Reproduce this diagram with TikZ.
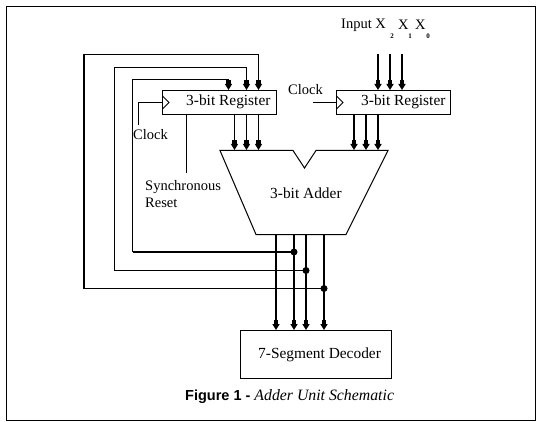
\documentclass[tikz,border=0pt]{standalone}
\usepackage{fontspec}
\setmainfont{Liberation Serif}
\newfontfamily\capfont{Liberation Sans}
\usetikzlibrary{arrows.meta,calc}
\tikzset{
  x=1pt,y=-1pt,
  hd/.tip={Rectangle[length=4pt,width=4.5pt]Triangle[length=6pt,width=7pt]},
  thin line/.style={draw=black,line width=1pt},
  boxnode/.style={draw=black,line width=1pt,fill=white,inner sep=0pt,outer sep=0pt,anchor=north west},
  lbl/.style={inner sep=0pt,font=\fontsize{14.5}{16}\selectfont,anchor=west},
  biglbl/.style={inner sep=0pt,font=\fontsize{15.4}{16}\selectfont,anchor=west},
  sublbl/.style={inner sep=0pt,font=\fontsize{7}{8}\selectfont\bfseries},
  bus/.style={draw=black,line width=2pt,-{hd}},
  busin/.style={draw=black,line width=1pt,-{hd}},
  dot/.style={circle,fill=black,inner sep=0pt,minimum size=7pt},
}
\begin{document}
\begin{tikzpicture}
\useasboundingbox (0,0) rectangle (543,422);
\fill[white] (0,0) rectangle (543,422);
\draw[thin line] (6.5,6.5) rectangle (535,420);
% nodes
\node[boxnode,minimum width=114pt,minimum height=24pt] (regL) at (162.5,90.5) {};
\node[boxnode,minimum width=114pt,minimum height=24pt] (regR) at (336.5,90.5) {};
\node[boxnode,minimum width=151pt,minimum height=48pt] (dec) at (240.5,330.5) {};
\node[biglbl] (regLt) at (186,102) {3-bit Register};
\node[biglbl] (regRt) at (361,102) {3-bit Register};
\node[biglbl] (dect) at (258,355) {7-Segment Decoder};
\node[biglbl] (addt) at (270,193) {3-bit Adder};
\node[lbl] (clkL) at (133,135) {Clock};
\node[lbl] (clkR) at (288,90) {Clock};
\node[lbl] (sync) at (145,187) {Synchronous};
\node[lbl] (rst) at (145,203) {Reset};
\node[lbl] (inp) at (341,25) {Input X};
\node[lbl] at (398,25) (xa) {X};
\node[lbl] at (415,25) (xb) {X};
\node[sublbl] at (392,36) (s2) {2};
\node[sublbl] at (410,36) (s1) {1};
\node[sublbl] at (428,36) (s0) {0};
\node[inner sep=0pt,anchor=west] (cap) at (185,397) {\capfont\bfseries\fontsize{14.5}{15}\selectfont Figure 1 - \rmfamily\mdseries\itshape\fontsize{15.8}{15}\selectfont Adder Unit Schematic};
% adder
\coordinate (a1) at (220,150.5); \coordinate (a2) at (293,150.5);
\coordinate (a3) at (304.5,168); \coordinate (a4) at (316,150.5);
\coordinate (a5) at (388,150.5); \coordinate (a6) at (346,234.5);
\coordinate (a7) at (256,234.5);
\draw[thin line,line join=miter] (a1)--(a2)--(a3)--(a4)--(a5)--(a6)--(a7)--cycle;
% clock triangles
\coordinate (t1) at (162.5,96); \coordinate (t2) at (169,102.5); \coordinate (t3) at (162.5,109);
\draw[thin line] (t1)--(t2)--(t3);
\coordinate (u1) at (336.5,96); \coordinate (u2) at (343,102.5); \coordinate (u3) at (336.5,109);
\draw[thin line] (u1)--(u2)--(u3);
% clock lines
\coordinate (cl1) at (138.5,125); \coordinate (cl2) at (138.5,102.5);
\draw[thin line] (cl1)--(cl2)--(regL.west);
\coordinate (cr1) at (313,102.5);
\draw[thin line] (cr1)--(regR.west);
% reset
\coordinate (rs) at (186.5,173);
\draw[thin line] (rs |- regL.south)--(rs);
% register to adder
\foreach \x/\n in {234.5/a,246.5/b,258.5/c}{
  \coordinate (p\n) at (\x,114.5);
  \draw[busin] (p\n)--(\x,150);
}
\foreach \x/\n in {354/d,366/e,378/f}{
  \coordinate (p\n) at (\x,114.5);
  \draw[bus] (p\n)--(\x,150);
}
% inputs
\foreach \x/\n in {378/g,390/h,402/i}{
  \coordinate (p\n) at (\x,54);
  \draw[bus] (p\n)--(\x,90);
}
% adder to decoder
\foreach \x/\n in {276/j,294/k,306/l,324/m}{
  \coordinate (q\n) at (\x,234);
  \draw[bus] (q\n)--(\x,330);
}
% feedback
\node[dot] (n1) at (294,252) {};
\node[dot] (n2) at (306,270.5) {};
\node[dot] (n3) at (324,288.5) {};
\coordinate (c1) at (132.5,252); \coordinate (c1t) at (132.5,79.5); \coordinate (c1e) at (228.5,79.5); \coordinate (c1a) at (228.5,90);
\coordinate (c2) at (114.5,270.5); \coordinate (c2t) at (114.5,67.5); \coordinate (c2e) at (246.5,67.5); \coordinate (c2a) at (246.5,90);
\coordinate (c3) at (84,288.5); \coordinate (c3t) at (84,54.5); \coordinate (c3e) at (258.5,54.5); \coordinate (c3a) at (258.5,90);
\draw[busin] (c1)--(c1t)--(c1e)--(c1a);
\draw[line width=2pt] (n1.center)--(c1);
\draw[busin] (n2.center)--(c2)--(c2t)--(c2e)--(c2a);
\draw[busin] (c3t)--(c3e)--(c3a);
\draw[line width=2pt] (c3t)--(c3);
\draw[line width=1pt] (n3.center)--(c3);
\end{tikzpicture}
\end{document}
